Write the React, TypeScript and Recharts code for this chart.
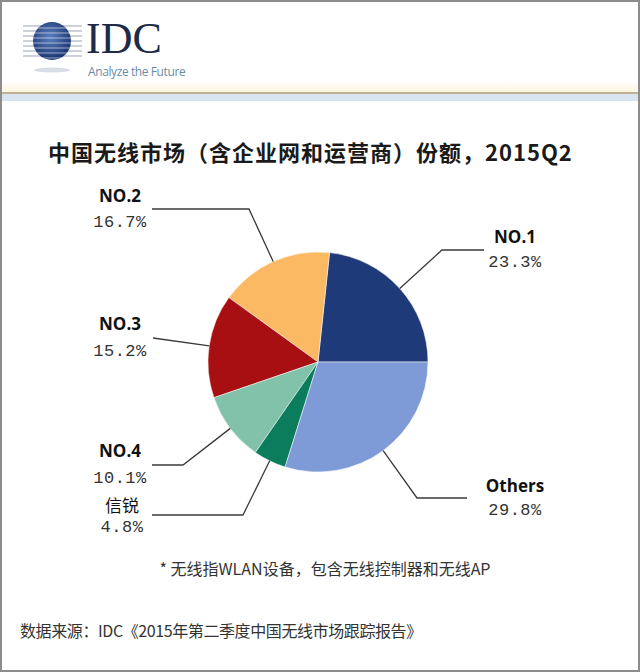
import React from "react";
import { PieChart, Pie, Cell } from "recharts";

// IDC 2015Q2 China WLAN market share
const vendors = ["NO.1", "NO.2", "NO.3", "NO.4", "信锐", "Others"];
const shares = [23.3, 16.7, 15.2, 10.1, 4.8, 29.8];
const sliceColors = ["#1f3a78", "#fbb964", "#a80f12", "#82c1aa", "#0b7d5c", "#7f9bd7"];

const data = vendors.map((name, i) => ({ name, share: shares[i] }));

// leader-line layout, offsets from the pie centre
const leaders = [
  { elbow: [124, -112], end: [166, -112], tx: 197, ty: -126, vy: -100 },
  { elbow: [-69, -153], end: [-166, -153], tx: -198, ty: -167, vy: -140 },
  { elbow: null, end: [-165, -24], tx: -198, ty: -39, vy: -11 },
  { elbow: [-135, 103], end: [-166, 103], tx: -198, ty: 88, vy: 116 },
  { elbow: [-75, 153], end: [-166, 153], tx: -196, ty: 142, vy: 165 },
  { elbow: [99, 136], end: [149, 136], tx: 197, ty: 123, vy: 148 },
];

const RAD = Math.PI / 180;

function renderLabel(props: any) {
  const { cx, cy, midAngle, outerRadius, index } = props;
  const name = props.name ?? props.payload?.name;
  const value = props.value ?? props.payload?.share;
  const l = leaders[index];
  const sx = cx + outerRadius * Math.cos(-midAngle * RAD);
  const sy = cy + outerRadius * Math.sin(-midAngle * RAD);
  const pts: number[][] = [[sx, sy]];
  if (l.elbow) pts.push([cx + l.elbow[0], cy + l.elbow[1]]);
  pts.push([cx + l.end[0], cy + l.end[1]]);
  const isCjk = name === "信锐";
  return (
    <g key={`lbl-${index}`}>
      <polyline
        points={pts.map((p) => p.join(",")).join(" ")}
        fill="none"
        stroke="#3a3a3a"
        strokeWidth={1.3}
      />
      <text
        x={cx + l.tx}
        y={cy + l.ty}
        textAnchor="middle"
        dominantBaseline="central"
        fontFamily={isCjk ? "'Noto Sans CJK SC', sans-serif" : "'Open Sans', sans-serif"}
        fontWeight={isCjk ? 400 : 700}
        fontSize={17}
        fill="#111"
      >
        {name}
      </text>
      <text
        x={cx + l.tx}
        y={cy + l.vy}
        textAnchor="middle"
        dominantBaseline="central"
        fontFamily="'Liberation Mono', monospace"
        fontSize={17}
        letterSpacing={0.5}
        fill="#333"
      >
        {Number(value).toFixed(1)}%
      </text>
    </g>
  );
}

function IdcLogo() {
  const stripes = [26, 31, 36, 41, 46, 51, 56];
  return (
    <svg width={200} height={80} style={{ position: "absolute", left: 0, top: 0 }}>
      <defs>
        <radialGradient id="globe" cx="45%" cy="40%" r="60%">
          <stop offset="0%" stopColor="#5b7fc0" />
          <stop offset="100%" stopColor="#1b3470" />
        </radialGradient>
        <clipPath id="globeClip">
          <circle cx={52} cy={41} r={19} />
        </clipPath>
      </defs>
      {stripes.map((y) => (
        <line key={y} x1={23} x2={82} y1={y} y2={y} stroke="#9aa3b5" strokeWidth={1} />
      ))}
      <circle cx={52} cy={41} r={19} fill="url(#globe)" />
      <g clipPath="url(#globeClip)">
        {stripes.map((y) => (
          <line key={y} x1={30} x2={75} y1={y + 2} y2={y + 2} stroke="#ffffff" strokeOpacity={0.55} strokeWidth={1.2} />
        ))}
      </g>
      <ellipse cx={52} cy={70} rx={18} ry={2.5} fill="#d9dde6" />
      <text x={86} y={53} fontFamily="'Liberation Serif', serif" fontSize={44} fill="#1d2b48">
        IDC
      </text>
      <text x={88} y={76} fontFamily="'Open Sans', sans-serif" fontSize={12} fill="#6a8cab" letterSpacing={-0.4}>
        Analyze the Future
      </text>
    </svg>
  );
}

export default function App() {
  return (
    <div
      style={{
        position: "absolute",
        left: 0,
        top: 0,
        width: 640,
        height: 672,
        background: "#ffffff",
        overflow: "hidden",
        fontFamily: "'Noto Sans CJK SC', sans-serif",
      }}
    >
      <IdcLogo />
      <div style={{ position: "absolute", left: 0, top: 80, width: 640, height: 12, background: "linear-gradient(#ffffff, #fcf5e0)" }} />
      <div style={{ position: "absolute", left: 0, top: 92, width: 640, height: 2, background: "#c2b196" }} />
      <div style={{ position: "absolute", left: 0, top: 94, width: 640, height: 7, background: "#d7e5f0" }} />

      <div
        style={{
          position: "absolute",
          left: 48,
          top: 136,
          fontSize: 22,
          fontWeight: 700,
          color: "#1a1a1a",
          whiteSpace: "nowrap",
          letterSpacing: 1,
          lineHeight: "30px",
        }}
      >
        中国无线市场（含企业网和运营商）份额，2015Q2
      </div>

      <div style={{ position: "absolute", left: 0, top: 0 }}>
        <PieChart width={640} height={672} margin={{ top: 0, right: 0, bottom: 0, left: 0 }}>
          <Pie
            data={data}
            dataKey="share"
            nameKey="name"
            cx={318}
            cy={362}
            outerRadius={110}
            startAngle={0}
            endAngle={360}
            stroke="#ffffff"
            strokeWidth={0.5}
            label={renderLabel}
            labelLine={false}
            isAnimationActive={false}
          >
            {data.map((d, i) => (
              <Cell key={d.name} fill={sliceColors[i]} />
            ))}
          </Pie>
        </PieChart>
      </div>

      <div
        style={{
          position: "absolute",
          left: 0,
          width: 640,
          top: 556,
          textAlign: "center",
          fontSize: 16,
          color: "#333",
          lineHeight: "24px",
          paddingLeft: 10,
          boxSizing: "border-box",
          whiteSpace: "nowrap",
        }}
      >
        * 无线指WLAN设备，包含无线控制器和无线AP
      </div>
      <div
        style={{
          position: "absolute",
          left: 20,
          top: 618,
          fontSize: 16,
          color: "#333",
          lineHeight: "24px",
          whiteSpace: "nowrap",
          letterSpacing: -0.4,
        }}
      >
        数据来源：IDC《2015年第二季度中国无线市场跟踪报告》
      </div>

      <div
        style={{
          position: "absolute",
          inset: 0,
          border: "2px solid #8c8c8c",
          boxSizing: "border-box",
          pointerEvents: "none",
        }}
      />
    </div>
  );
}
